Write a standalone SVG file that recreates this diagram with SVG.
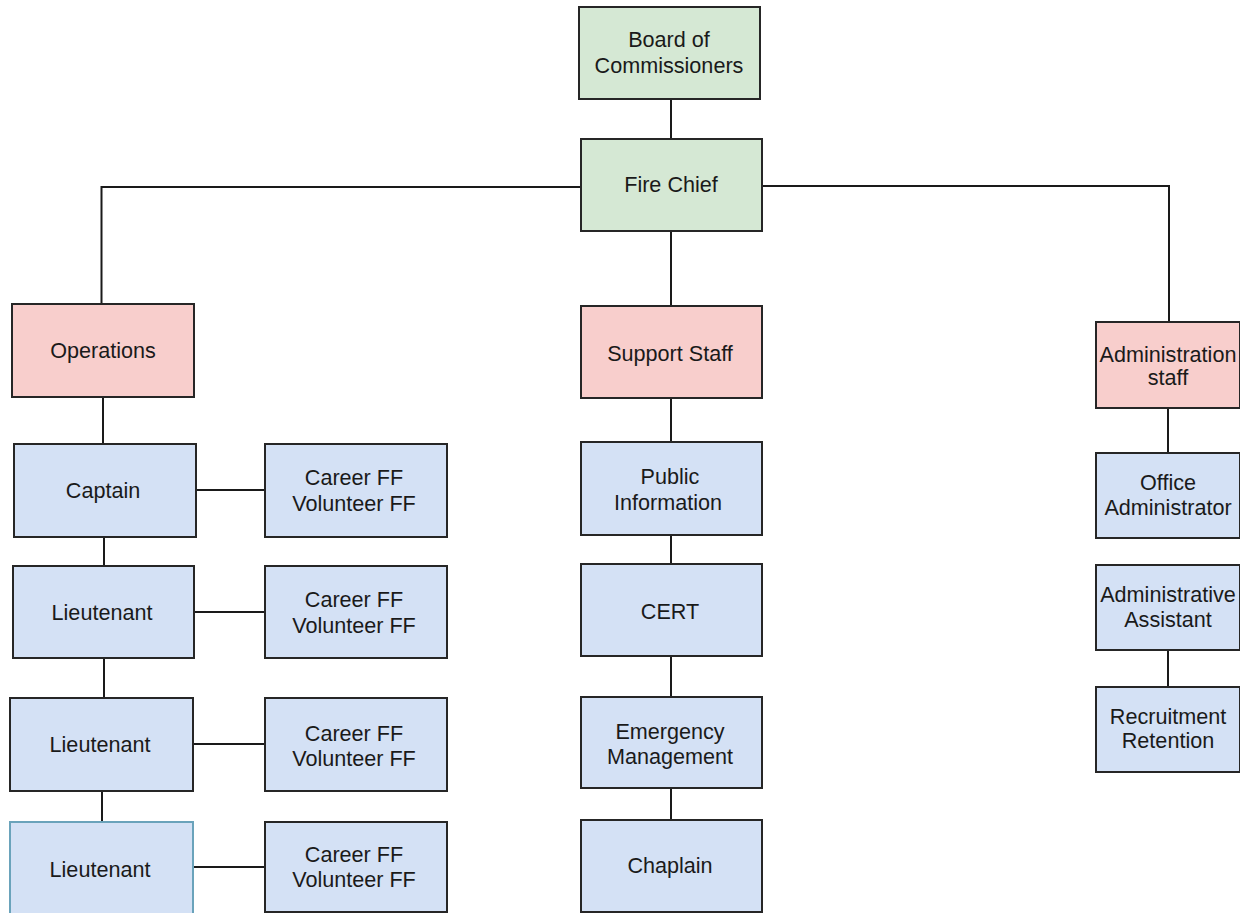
<svg xmlns="http://www.w3.org/2000/svg" width="1240" height="913" viewBox="0 0 1240 913">
<style>
rect{stroke:#262626;stroke-width:2}
.g{fill:#d5e8d4}
.r{fill:#f8cecc}
.b{fill:#d4e1f5}
.teal{stroke:#6aa3bb}
text{font-family:"Liberation Sans",Arial,sans-serif;font-size:21.6px;fill:#1a1a1a;text-anchor:middle}
#connectors path{fill:none;stroke:#1a1a1a;stroke-width:2}
</style>
<rect width="1240" height="913" fill="#ffffff" style="stroke:none"/>
<g id="connectors">
<path d="M671,99V139"/>
<path d="M581,187H101.5V304"/>
<path d="M762,186H1169V322"/>
<path d="M671,231V306"/>
<path d="M103,397V444"/>
<path d="M196,490H265"/>
<path d="M104,537V566"/>
<path d="M194,612H265"/>
<path d="M104,658V698"/>
<path d="M193,744H265"/>
<path d="M102,791V822"/>
<path d="M193,867H265"/>
<path d="M671,398V442"/>
<path d="M671,535V564"/>
<path d="M671,656V697"/>
<path d="M671,788V820"/>
<path d="M1168,408V453"/>
<path d="M1168,650V687"/>
</g>
<g id="board"><rect class="g" x="579" y="7" width="181" height="92"/><text x="669" y="47">Board of</text><text x="669" y="73">Commissioners</text></g>
<g id="firechief"><rect class="g" x="581" y="139" width="181" height="92"/><text x="671" y="192">Fire Chief</text></g>
<g id="operations"><rect class="r" x="12" y="304" width="182" height="93"/><text x="103" y="358">Operations</text></g>
<g id="captain"><rect class="b" x="14" y="444" width="182" height="93"/><text x="103" y="498">Captain</text></g>
<g id="ff1"><rect class="b" x="265" y="444" width="182" height="93"/><text x="354" y="485">Career FF</text><text x="354" y="511">Volunteer FF</text></g>
<g id="lt1"><rect class="b" x="13" y="566" width="181" height="92"/><text x="102" y="620">Lieutenant</text></g>
<g id="ff2"><rect class="b" x="265" y="566" width="182" height="92"/><text x="354" y="607">Career FF</text><text x="354" y="633">Volunteer FF</text></g>
<g id="lt2"><rect class="b" x="10" y="698" width="183" height="93"/><text x="100" y="752">Lieutenant</text></g>
<g id="ff3"><rect class="b" x="265" y="698" width="182" height="93"/><text x="354" y="741">Career FF</text><text x="354" y="766">Volunteer FF</text></g>
<g id="lt3"><rect class="b teal" x="10" y="822" width="183" height="96"/><text x="100" y="877">Lieutenant</text></g>
<g id="ff4"><rect class="b" x="265" y="822" width="182" height="90"/><text x="354" y="862">Career FF</text><text x="354" y="887">Volunteer FF</text></g>
<g id="support"><rect class="r" x="581" y="306" width="181" height="92"/><text x="670" y="361">Support Staff</text></g>
<g id="publicinfo"><rect class="b" x="581" y="442" width="181" height="93"/><text x="670" y="484">Public</text><text x="668" y="510">Information</text></g>
<g id="cert"><rect class="b" x="581" y="564" width="181" height="92"/><text x="670" y="619">CERT</text></g>
<g id="emergency"><rect class="b" x="581" y="697" width="181" height="91"/><text x="670" y="739">Emergency</text><text x="670" y="764">Management</text></g>
<g id="chaplain"><rect class="b" x="581" y="820" width="181" height="92"/><text x="670" y="873">Chaplain</text></g>
<g id="adminstaff"><rect class="r" x="1096" y="322" width="144" height="86"/><text x="1168" y="362">Administration</text><text x="1168" y="385">staff</text></g>
<g id="officeadmin"><rect class="b" x="1096" y="453" width="144" height="85"/><text x="1168" y="490">Office</text><text x="1168" y="515">Administrator</text></g>
<g id="adminasst"><rect class="b" x="1096" y="565" width="144" height="85"/><text x="1168" y="602">Administrative</text><text x="1168" y="627">Assistant</text></g>
<g id="recruit"><rect class="b" x="1096" y="687" width="144" height="85"/><text x="1168" y="724">Recruitment</text><text x="1168" y="748">Retention</text></g>
</svg>
